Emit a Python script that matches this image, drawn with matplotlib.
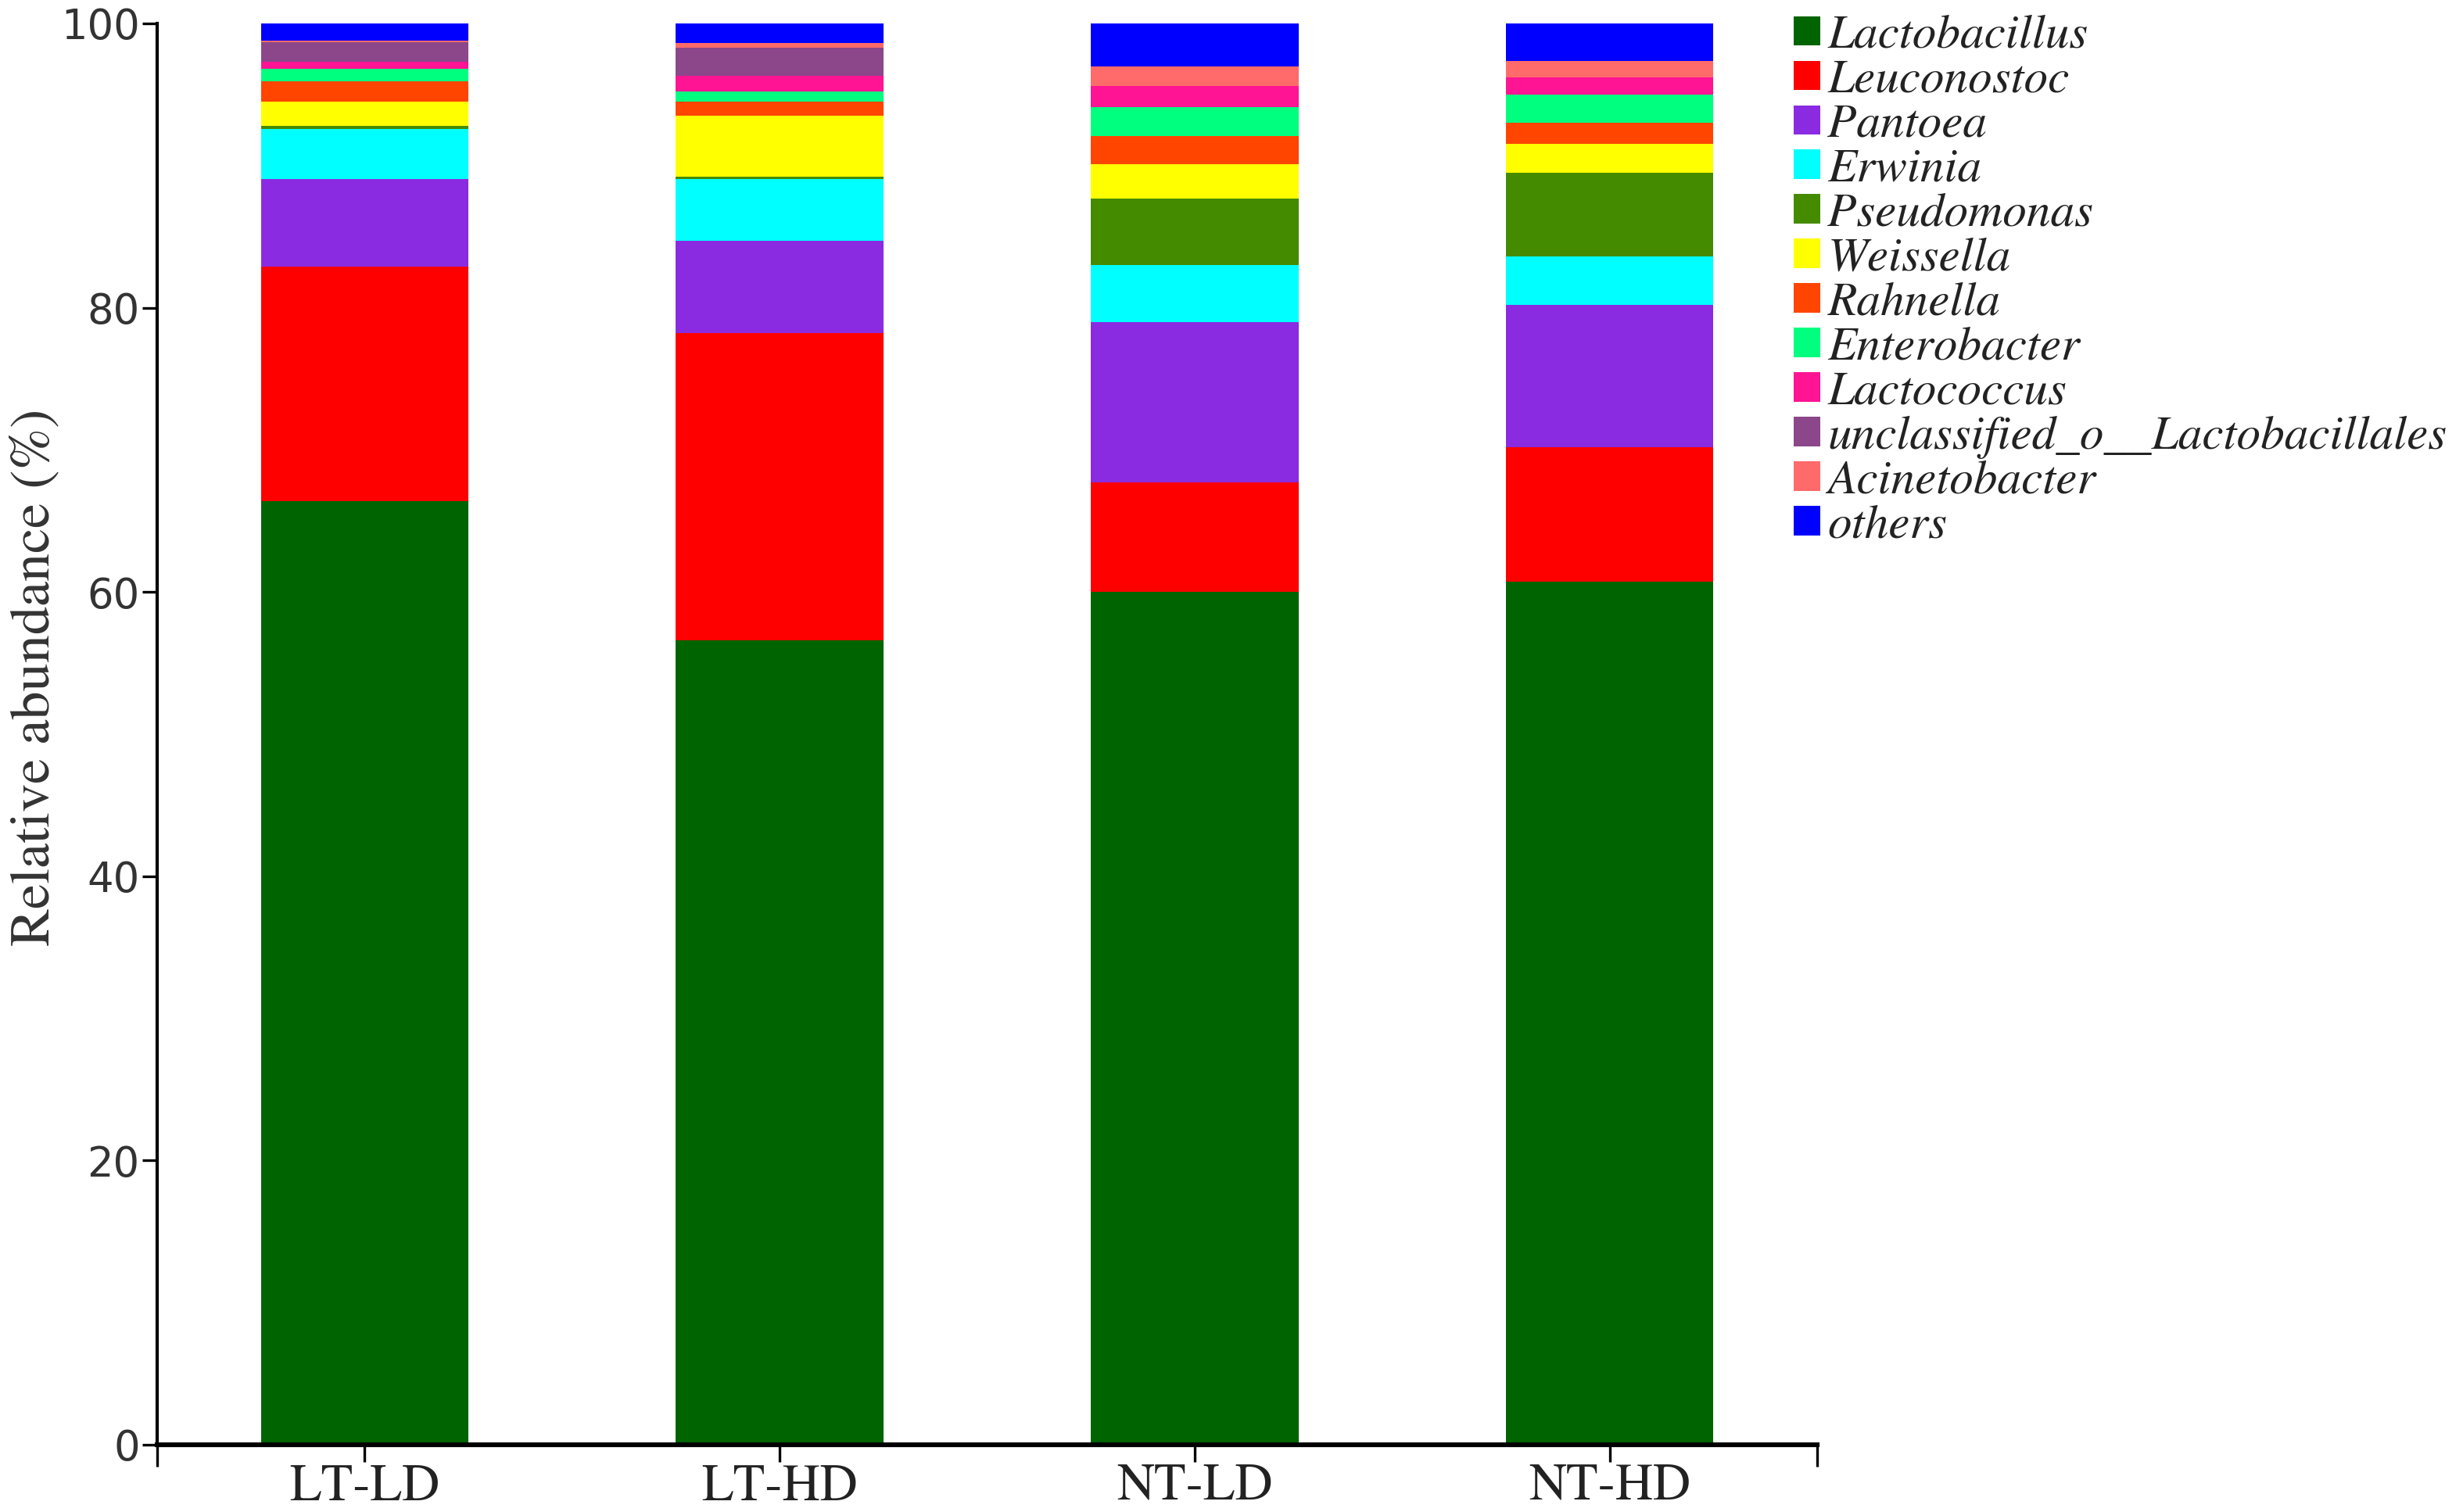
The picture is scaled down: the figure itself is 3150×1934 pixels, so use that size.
import matplotlib.pyplot as plt
from matplotlib.font_manager import FontProperties
import numpy as np

samples = ["LT-LD", "LT-HD", "NT-LD", "NT-HD"]
taxa = ["Lactobacillus", "Leuconostoc", "Pantoea", "Erwinia", "Pseudomonas",
        "Weissella", "Rahnella", "Enterobacter", "Lactococcus",
        "unclassified_o__Lactobacillales", "Acinetobacter", "others"]
colors = ["#006400", "#FF0000", "#8A2BE2", "#00FFFF", "#458B00", "#FFFF00",
          "#FF4500", "#00FF7F", "#FF1493", "#8B4789", "#FF6A6A", "#0000FF"]

# relative abundance (%) per taxon, order = samples
lactobacillus = [66.4, 56.6, 60.0, 60.7]
leuconostoc = [16.5, 21.6, 7.7, 9.5]
pantoea = [6.15, 6.5, 11.3, 10.0]
erwinia = [3.5, 4.35, 4.0, 3.4]
pseudomonas = [0.25, 0.15, 4.7, 5.9]
weissella = [1.7, 4.3, 2.4, 2.05]
rahnella = [1.45, 1.0, 2.0, 1.45]
enterobacter = [0.85, 0.7, 2.0, 2.0]
lactococcus = [0.5, 1.1, 1.5, 1.2]
unclassified = [1.4, 2.0, 0.0, 0.0]
acinetobacter = [0.1, 0.3, 1.4, 1.15]
others = [1.2, 1.4, 3.0, 2.65]

values = [lactobacillus, leuconostoc, pantoea, erwinia, pseudomonas, weissella,
          rahnella, enterobacter, lactococcus, unclassified, acinetobacter, others]

SERIF = ["STIXGeneral", "Liberation Serif", "DejaVu Serif"]

fig = plt.figure(figsize=(15.75, 9.67), dpi=200)
ax = fig.add_axes([0.0638, 0.0445, 0.674, 0.94])

x = np.arange(len(samples))
bottom = np.zeros(len(samples))
handles = []
for name, vals, col in zip(taxa, values, colors):
    b = ax.bar(x, vals, width=0.5, bottom=bottom, color=col, label=name, linewidth=0)
    handles.append(b)
    bottom += np.array(vals)

ax.set_xlim(-0.5, 3.5)
ax.set_ylim(0, 100)
ax.set_yticks([0, 20, 40, 60, 80, 100])
ax.set_xticks(x)
ax.set_xticklabels(samples, fontfamily=SERIF, fontsize=24, color="#222222")
for lab in ax.get_yticklabels():
    lab.set_fontfamily("DejaVu Sans")
    lab.set_fontsize(19)
    lab.set_color("#333333")
ax.set_xticks([-0.5, 3.5], minor=True)
ax.tick_params(axis="x", which="minor", length=10, width=1.2)
ax.tick_params(axis="x", which="major", length=8, width=1.2, pad=1)
ax.tick_params(axis="y", length=7, width=1.2, pad=1)

ax.set_ylabel("Relative abundance (%)", fontfamily=SERIF, fontsize=26, color="#333333")
ax.yaxis.set_label_coords(-0.058, 0.54)

ax.spines["top"].set_visible(False)
ax.spines["right"].set_visible(False)
ax.spines["left"].set_linewidth(1.5)
ax.spines["bottom"].set_linewidth(2.2)

legfont = FontProperties(family=SERIF, style="italic", size=22)
leg = fig.legend(handles=handles, labels=taxa, loc="upper left",
                 bbox_to_anchor=(0.7205, 1.003), frameon=False, prop=legfont,
                 handlelength=0.56, handleheight=0.56, handletextpad=0.15,
                 labelspacing=0.03, borderaxespad=0)
for t in leg.get_texts():
    t.set_color("#222222")

fig.savefig("out.png", dpi=200)
